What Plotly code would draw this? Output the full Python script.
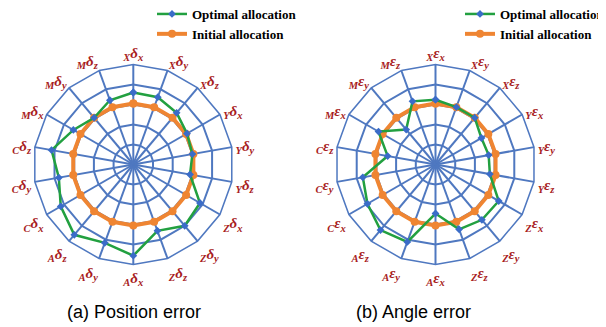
import plotly.graph_objects as go

# ---- data ----
pos_labels = ["<sub>X</sub>δ<sub>x</sub>", "<sub>X</sub>δ<sub>y</sub>", "<sub>X</sub>δ<sub>z</sub>",
              "<sub>Y</sub>δ<sub>x</sub>", "<sub>Y</sub>δ<sub>y</sub>", "<sub>Y</sub>δ<sub>z</sub>",
              "<sub>Z</sub>δ<sub>x</sub>", "<sub>Z</sub>δ<sub>y</sub>", "<sub>Z</sub>δ<sub>z</sub>",
              "<sub>A</sub>δ<sub>x</sub>", "<sub>A</sub>δ<sub>y</sub>", "<sub>A</sub>δ<sub>z</sub>",
              "<sub>C</sub>δ<sub>x</sub>", "<sub>C</sub>δ<sub>y</sub>", "<sub>C</sub>δ<sub>z</sub>",
              "<sub>M</sub>δ<sub>x</sub>", "<sub>M</sub>δ<sub>y</sub>", "<sub>M</sub>δ<sub>z</sub>"]
pos_optimal = [3.60, 3.58, 3.37, 3.10, 3.00, 2.88, 3.85, 4.00, 3.53,
               4.56, 4.17, 4.59, 4.19, 3.78, 4.15, 3.46, 3.05, 3.42]
pos_initial = [3.05, 3.05, 3.05, 3.05, 3.05, 3.05, 3.05, 3.05, 3.05,
               3.05, 3.05, 3.05, 3.05, 3.05, 3.05, 3.05, 3.05, 3.05]

ang_labels = ["<sub>X</sub>ε<sub>x</sub>", "<sub>X</sub>ε<sub>y</sub>", "<sub>X</sub>ε<sub>z</sub>",
              "<sub>Y</sub>ε<sub>x</sub>", "<sub>Y</sub>ε<sub>y</sub>", "<sub>Y</sub>ε<sub>z</sub>",
              "<sub>Z</sub>ε<sub>x</sub>", "<sub>Z</sub>ε<sub>y</sub>", "<sub>Z</sub>ε<sub>z</sub>",
              "<sub>A</sub>ε<sub>x</sub>", "<sub>A</sub>ε<sub>y</sub>", "<sub>A</sub>ε<sub>z</sub>",
              "<sub>C</sub>ε<sub>x</sub>", "<sub>C</sub>ε<sub>y</sub>", "<sub>C</sub>ε<sub>z</sub>",
              "<sub>M</sub>ε<sub>x</sub>", "<sub>M</sub>ε<sub>y</sub>", "<sub>M</sub>ε<sub>z</sub>"]
ang_optimal = [3.24, 3.05, 3.05, 2.65, 2.70, 2.76, 3.65, 3.61, 3.45,
               2.45, 4.12, 4.28, 3.93, 3.69, 2.43, 3.29, 2.28, 3.36]
ang_initial = [3.05, 3.05, 3.05, 3.05, 3.05, 3.05, 3.05, 3.05, 3.05,
               3.05, 3.05, 3.05, 3.05, 3.05, 3.05, 3.05, 3.05, 3.05]

series_names = ["Optimal allocation", "Initial allocation"]
captions = ["(a) Position error", "(b) Angle error"]

GRID = "#4f78c0"
GREEN = "#22a040"
BLUE = "#3a6cc8"
ORANGE = "#ef8532"
LABEL = "#a81c22"

W, H = 606, 327
OFF = 8  # page body margin in the browser


def closed(v):
    return list(v) + [v[0]]


fig = go.Figure()

panels = [
    ("polar", "legend", pos_labels, pos_optimal, pos_initial),
    ("polar2", "legend2", ang_labels, ang_optimal, ang_initial),
]
for sp, lg, labs, opt, ini in panels:
    fig.add_trace(go.Scatterpolar(
        r=closed(ini), theta=closed(labs), subplot=sp, legend=lg,
        name=series_names[1], mode="lines+markers",
        line=dict(color=ORANGE, width=4),
        marker=dict(color=ORANGE, size=8, symbol="circle"),
        legendrank=2))
    fig.add_trace(go.Scatterpolar(
        r=closed(opt), theta=closed(labs), subplot=sp, legend=lg,
        name=series_names[0], mode="lines+markers",
        line=dict(color=GREEN, width=2.5),
        marker=dict(color=BLUE, size=6, symbol="diamond"),
        legendrank=1))


def polar_cfg(sx, sy, rad):
    cx, cy = sx - OFF, sy - OFF
    return dict(
        domain=dict(x=[(cx - rad) / W, (cx + rad) / W],
                    y=[(H - cy - rad) / H, (H - cy + rad) / H]),
        gridshape="linear",
        bgcolor="white",
        radialaxis=dict(range=[0, 5], dtick=1, showticklabels=False, ticks="",
                        showline=False, gridcolor=GRID, gridwidth=1.5),
        angularaxis=dict(rotation=90, direction="clockwise",
                         showline=True, linecolor=GRID, linewidth=1.5,
                         gridcolor=GRID, gridwidth=1.5, ticks="",
                         tickfont=dict(family="Liberation Serif", size=15, color=LABEL,
                                       weight="bold", style="italic")),
    )


legend_font = dict(family="Liberation Serif", size=13, color="black", weight="bold")
fig.update_layout(
    width=W, height=H,
    margin=dict(l=0, r=0, t=0, b=0, autoexpand=False),
    paper_bgcolor="white",
    polar=polar_cfg(133.3, 164.5, 100),
    polar2=polar_cfg(435.5, 164.5, 100),
    legend=dict(x=(152 - OFF) / W, y=1 + 9 / H, xanchor="left", yanchor="top",
                font=legend_font, itemwidth=30, tracegroupgap=0,
                bgcolor="rgba(0,0,0,0)"),
    legend2=dict(x=(460 - OFF) / W, y=1 + 9 / H, xanchor="left", yanchor="top",
                 font=legend_font, itemwidth=30, tracegroupgap=0,
                 bgcolor="rgba(0,0,0,0)"),
    annotations=[
        dict(text=captions[0], x=(134 - OFF) / W, y=1 - (312 - OFF) / H,
             xref="paper", yref="paper", xanchor="center", yanchor="middle",
             showarrow=False, font=dict(family="Liberation Sans", size=18, color="black")),
        dict(text=captions[1], x=(413 - OFF) / W, y=1 - (312 - OFF) / H,
             xref="paper", yref="paper", xanchor="center", yanchor="middle",
             showarrow=False, font=dict(family="Liberation Sans", size=18, color="black")),
    ],
)

fig.write_html("out.html")
